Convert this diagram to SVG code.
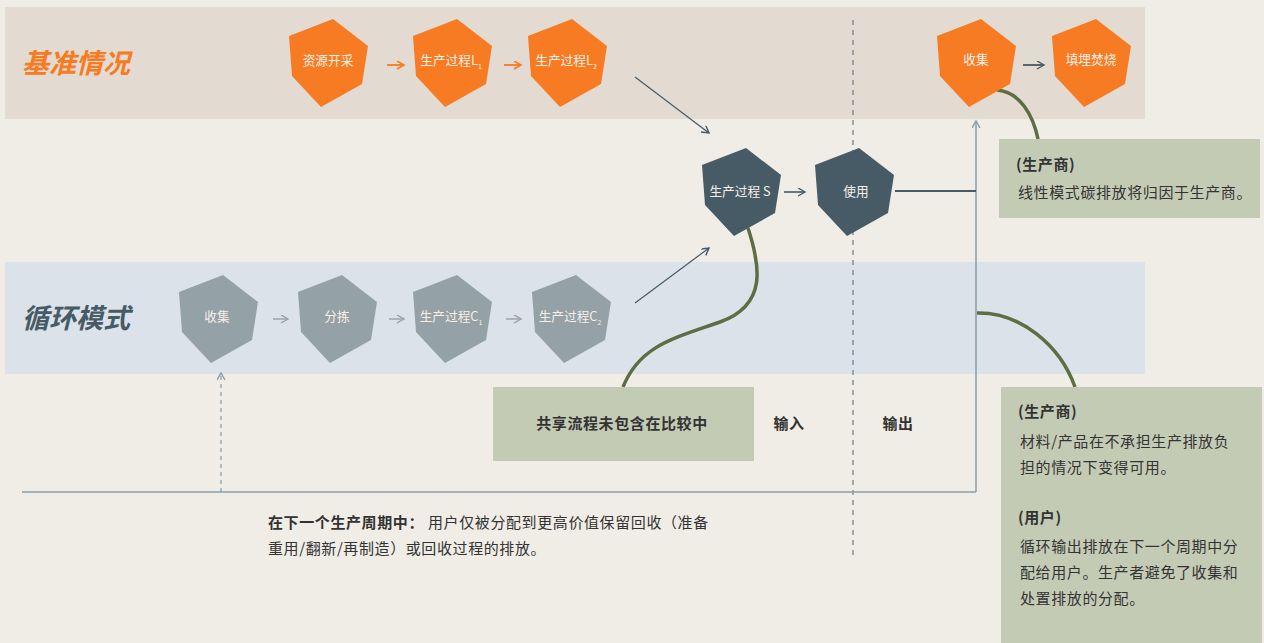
<svg xmlns="http://www.w3.org/2000/svg" width="1264" height="643" viewBox="0 0 1264 643">
<style>
.cn{font-family:"Noto Sans CJK SC","Noto Sans",sans-serif}
.nt{font-family:"Noto Sans CJK SC","Noto Sans",sans-serif;font-size:12.7px;fill:#f7efe6;text-anchor:middle}
.o{fill:#f77b22}.d{fill:#465b66}.g{fill:#94a1a7}
.body{font-family:"Noto Sans CJK SC","Noto Sans",sans-serif;font-size:15px;fill:#333;letter-spacing:0.6px}
.b{font-weight:bold}
.curve{fill:none;stroke:#5e6e43;stroke-width:3.5}
</style>
<defs>
<polygon id="hex" points="0,17 44,0 79,27 73,65 32,88 3,57"/>
<marker id="mo" markerWidth="10" markerHeight="10" refX="8" refY="4" orient="auto" markerUnits="userSpaceOnUse"><path d="M1,0 L8,4 L1,8" fill="none" stroke="#f77b22" stroke-width="1.6"/></marker>
<marker id="md" markerWidth="10" markerHeight="10" refX="8" refY="4" orient="auto" markerUnits="userSpaceOnUse"><path d="M1,0 L8,4 L1,8" fill="none" stroke="#465b66" stroke-width="1.4"/></marker>
<marker id="mg" markerWidth="10" markerHeight="10" refX="8" refY="4" orient="auto" markerUnits="userSpaceOnUse"><path d="M1,0 L8,4 L1,8" fill="none" stroke="#94a1a7" stroke-width="1.4"/></marker>
<marker id="ml" markerWidth="10" markerHeight="10" refX="8" refY="4" orient="auto" markerUnits="userSpaceOnUse"><path d="M1,0 L8,4 L1,8" fill="none" stroke="#8a9ca8" stroke-width="1.4"/></marker>
</defs>
<rect width="1264" height="643" fill="#f0ede6"/>
<g id="bands">
<rect x="5" y="7" width="1140" height="112" fill="#e3dad1"/>
<rect x="5" y="262" width="1140" height="112" fill="#dce2e9"/>
<text x="22" y="73" class="cn" font-size="27" font-weight="bold" font-style="italic" fill="#f77b22">基准情况</text>
<text x="22" y="328" class="cn" font-size="27" font-weight="bold" font-style="italic" fill="#465b66">循环模式</text>
</g>
<g id="connectors">
<line x1="853" y1="20" x2="853" y2="555" stroke="#6b7a84" stroke-width="1.2" stroke-dasharray="5,5"/>
<line x1="22" y1="492" x2="976" y2="492" stroke="#8a9ca8" stroke-width="1.5"/>
<line x1="976" y1="492" x2="976" y2="121" stroke="#8a9ca8" stroke-width="1.5" marker-end="url(#ml)"/>
<line x1="221" y1="492" x2="221" y2="373" stroke="#8a9ca8" stroke-width="1.2" stroke-dasharray="4,4" marker-end="url(#ml)"/>
<line x1="895" y1="191" x2="976" y2="191" stroke="#465b66" stroke-width="2"/>
<line x1="387" y1="65" x2="404" y2="65" stroke="#f77b22" stroke-width="1.8" marker-end="url(#mo)"/>
<line x1="504" y1="65" x2="521" y2="65" stroke="#f77b22" stroke-width="1.8" marker-end="url(#mo)"/>
<line x1="1023" y1="65" x2="1044" y2="65" stroke="#465b66" stroke-width="1.8" marker-end="url(#md)"/>
<line x1="784" y1="192" x2="805" y2="192" stroke="#465b66" stroke-width="1.6" marker-end="url(#md)"/>
<line x1="273" y1="319" x2="288" y2="319" stroke="#94a1a7" stroke-width="1.4" marker-end="url(#mg)"/>
<line x1="389" y1="319" x2="404" y2="319" stroke="#94a1a7" stroke-width="1.4" marker-end="url(#mg)"/>
<line x1="506" y1="319" x2="521" y2="319" stroke="#94a1a7" stroke-width="1.4" marker-end="url(#mg)"/>
<line x1="635" y1="77" x2="709" y2="133" stroke="#465b66" stroke-width="1.2" marker-end="url(#md)"/>
<line x1="635" y1="303" x2="709" y2="248" stroke="#465b66" stroke-width="1.2" marker-end="url(#md)"/>
<path class="curve" d="M997,90 C1020,92 1033,115 1038,139"/>
<path class="curve" d="M748,228 C760,265 768,305 720,322 C675,338 640,345 623,387"/>
<path class="curve" d="M977,313 C1020,312 1060,345 1075,387"/>
</g>
<g id="n-ziyuan"><use href="#hex" x="289" y="19" class="o"/><text class="nt" x="328" y="65">资源开采</text></g>
<g id="n-l1"><use href="#hex" x="413" y="19" class="o"/><text class="nt" x="451" y="65">生产过程L<tspan font-size="7" dy="4">1</tspan></text></g>
<g id="n-l2"><use href="#hex" x="528" y="19" class="o"/><text class="nt" x="566" y="65">生产过程L<tspan font-size="7" dy="4">2</tspan></text></g>
<g id="n-shouji-top"><use href="#hex" x="937" y="19" class="o"/><text class="nt" x="976" y="64">收集</text></g>
<g id="n-tianmai"><use href="#hex" x="1052" y="19" class="o"/><text class="nt" x="1091" y="64">填埋焚烧</text></g>
<g id="n-s"><use href="#hex" x="702" y="148" class="d"/><text class="nt" x="740" y="196">生产过程 S</text></g>
<g id="n-shiyong"><use href="#hex" x="815" y="148" class="d"/><text class="nt" x="856" y="196">使用</text></g>
<g id="n-shouji"><use href="#hex" x="179" y="275" class="g"/><text class="nt" x="217" y="321">收集</text></g>
<g id="n-fenjian"><use href="#hex" x="298" y="275" class="g"/><text class="nt" x="337" y="321">分拣</text></g>
<g id="n-c1"><use href="#hex" x="413" y="275" class="g"/><text class="nt" x="451" y="321">生产过程C<tspan font-size="7" dy="4">1</tspan></text></g>
<g id="n-c2"><use href="#hex" x="532" y="275" class="g"/><text class="nt" x="570" y="321">生产过程C<tspan font-size="7" dy="4">2</tspan></text></g>
<g id="box-producer1">
<rect x="999" y="139" width="261" height="79" fill="#c4cbb5"/>
<text class="body b" x="1016" y="170">(生产商)</text>
<text class="body" x="1018" y="198">线性模式碳排放将归因于生产商。</text>
</g>
<g id="box-shared">
<rect x="493" y="387" width="261" height="74" fill="#c4cbb5"/>
<text class="body b" x="622" y="429" text-anchor="middle">共享流程未包含在比较中</text>
</g>
<g id="labels">
<text class="body b" x="789" y="429" text-anchor="middle">输入</text>
<text class="body b" x="898" y="429" text-anchor="middle">输出</text>
</g>
<g id="box-producer2">
<rect x="1001" y="387" width="261" height="256" fill="#c4cbb5"/>
<text class="body b" x="1018" y="417">(生产商)</text>
<text class="body" x="1020" y="447">材料/产品在不承担生产排放负</text>
<text class="body" x="1020" y="473">担的情况下变得可用。</text>
<text class="body b" x="1018" y="523">(用户)</text>
<text class="body" x="1020" y="552">循环输出排放在下一个周期中分</text>
<text class="body" x="1020" y="578">配给用户。生产者避免了收集和</text>
<text class="body" x="1020" y="604">处置排放的分配。</text>
</g>
<g id="note">
<text class="body" x="268" y="528"><tspan class="b">在下一个生产周期中：</tspan> 用户仅被分配到更高价值保留回收（准备</text>
<text class="body" x="268" y="554">重用/翻新/再制造）或回收过程的排放。</text>
</g>
</svg>
